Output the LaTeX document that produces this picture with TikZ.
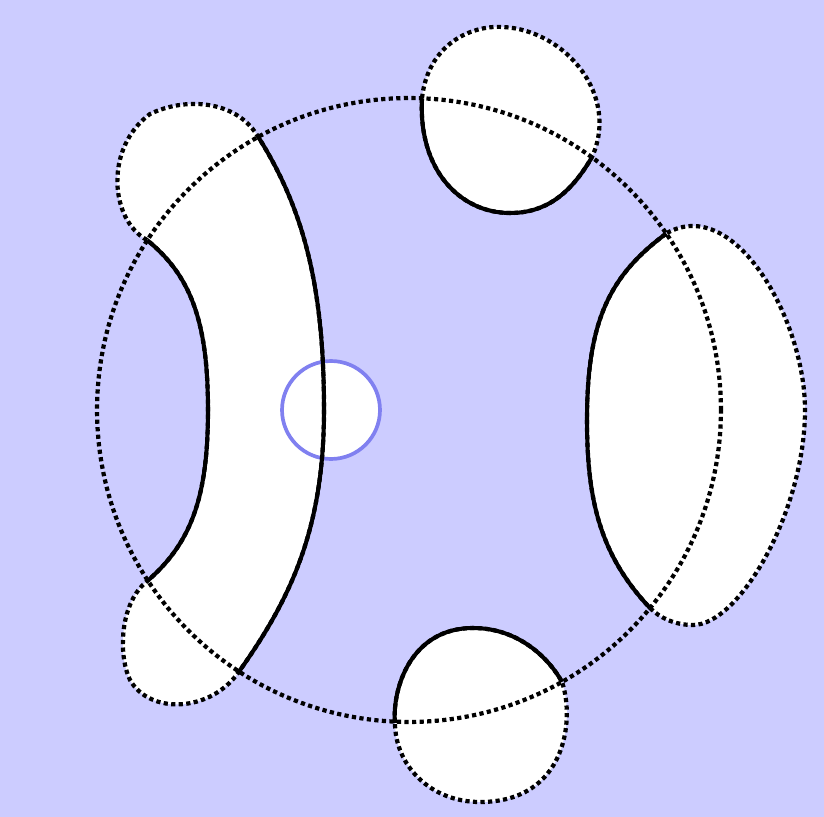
\documentclass[tikz,border=0pt]{standalone}
\usepackage{tikz}
\definecolor{skybg}{RGB}{204,204,255}
\definecolor{ringblue}{RGB}{128,128,240}

% outlines of the white patches, in pixel units
\newcommand{\crescentpath}{(257,135) .. controls (305,210) and (324,290) .. (324,410)
    .. controls (324,530) and (290,600) .. (238,673)
    .. controls (210,712) and (150,715) .. (130,680)
    .. controls (118,655) and (120,605) .. (145,583)
    .. controls (190,545) and (208,500) .. (208,410)
    .. controls (208,320) and (190,275) .. (147,240)
    .. controls (110,220) and (104,148) .. (150,114)
    .. controls (185,97) and (235,100) .. cycle}
\newcommand{\topblobpath}{(422,98) .. controls (428,45) and (470,25) .. (503,27)
    .. controls (565,30) and (620,95) .. (592,157)
    .. controls (570,195) and (545,213) .. (510,213)
    .. controls (460,213) and (418,170) .. cycle}
\newcommand{\ovalpath}{(667,233) .. controls (735,195) and (805,320) .. (805,410)
    .. controls (805,510) and (740,625) .. (693,625)
    .. controls (675,625) and (660,618) .. (650,608)
    .. controls (600,555) and (587,500) .. (587,420)
    .. controls (587,320) and (610,275) .. cycle}
\newcommand{\bottomblobpath}{(395,723) .. controls (392,690) and (410,628) .. (473,628)
    .. controls (520,628) and (550,660) .. (562,682)
    .. controls (575,720) and (566,802) .. (480,802)
    .. controls (430,802) and (395,765) .. cycle}

\begin{document}
\begin{tikzpicture}[x = 0.02cm, y = -0.02cm,
    dots/.style = {draw = black, line width = 2.4pt, dash pattern = on 2.4pt off 1.9pt},
    rim/.style = {draw = black, line width = 2.3pt, line join = round}]
    \fill[skybg] (0,0) rectangle (824,817);
    \useasboundingbox (0,0) rectangle (824,817);
    % white patches
    \fill[white] \crescentpath;
    \fill[white] \topblobpath;
    \fill[white] \ovalpath;
    \fill[white] \bottomblobpath;
    \node[circle, draw = ringblue, fill = white, line width = 2.1pt, inner sep = 0pt, minimum size = 1.96cm] (hole) at (331,410) {};
    % outside parts dotted
    \path[dots] \crescentpath;
    \path[dots] \topblobpath;
    \path[dots] \ovalpath;
    \path[dots] \bottomblobpath;
    \coordinate (mid) at (409,410);
    \path[dots] (mid) circle [radius = 6.24cm];
    % inside parts solid
    \begin{scope}
        \clip (mid) circle [radius = 6.24cm];
        \path[rim] \crescentpath;
        \path[rim] \topblobpath;
        \path[rim] \ovalpath;
        \path[rim] \bottomblobpath;
    \end{scope}
\end{tikzpicture}
\end{document}
